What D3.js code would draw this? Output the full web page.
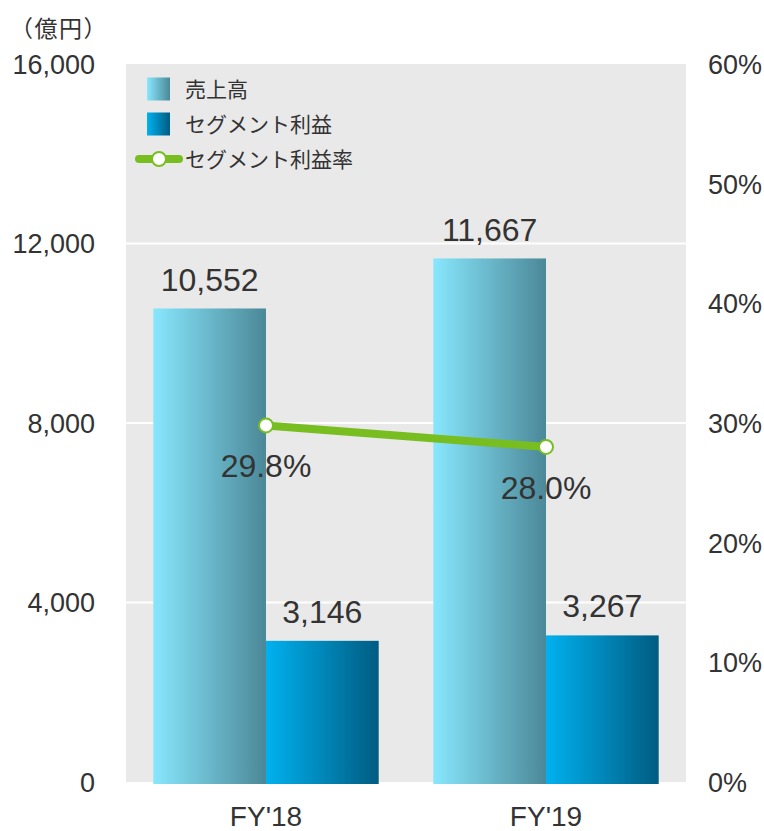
<!DOCTYPE html>
<html>
<head>
<meta charset="utf-8">
<script src="https://cdn.jsdelivr.net/npm/d3@7"></script>
<style>
  html, body { margin: 0; padding: 0; background: #fff; }
  svg { display: block; font-family: "Liberation Sans", Arial, "Noto Sans CJK JP", sans-serif; }
</style>
</head>
<body>
<svg id="chart" width="764" height="831"></svg>
<script>
// Data
const categories = ["FY'18", "FY'19"];
const sales = [10552, 11667];          // 売上高 (億円)
const segmentProfit = [3146, 3267];    // セグメント利益 (億円)
const profitRate = [29.8, 28.0];       // セグメント利益率 (%)
const leftTicks = [0, 4000, 8000, 12000, 16000];
const rightTicks = [0, 10, 20, 30, 40, 50, 60];
const seriesNames = ["売上高", "セグメント利益", "セグメント利益率"];
const unitLabel = "（億円）";

const svg = d3.select("#chart");
const textColor = "#333333";
const lineColor = "#78be20";

const plot = { left: 126, right: 686, top: 64, bottom: 782 };

const x = d3.scaleBand().domain(categories).range([plot.left, plot.right]).padding(0);
const groupWidth = x.bandwidth() * 0.805;
const x1 = d3.scaleBand().domain(["sales", "profit"]).range([0, groupWidth]).padding(0);
const y = d3.scaleLinear().domain([0, 16000]).range([plot.bottom, plot.top]);
const yr = d3.scaleLinear().domain([0, 60]).range([plot.bottom, plot.top]);

// Gradients for the bars
const defs = svg.append("defs");
function gradient(id, from, to) {
  const g = defs.append("linearGradient").attr("id", id)
    .attr("x1", "0%").attr("x2", "100%").attr("y1", "0%").attr("y2", "0%");
  g.append("stop").attr("offset", "0%").attr("stop-color", from);
  g.append("stop").attr("offset", "100%").attr("stop-color", to);
}
gradient("gradSales", "#88e7fd", "#4b8898");
gradient("gradProfit", "#00b1ef", "#005c82");

// Plot background
svg.append("rect")
  .attr("x", plot.left).attr("y", plot.top)
  .attr("width", plot.right - plot.left).attr("height", plot.bottom - plot.top)
  .attr("fill", "#e9e9e9");

// Gridlines
svg.append("g").selectAll("line")
  .data(leftTicks.filter(d => d > 0 && d < 16000))
  .join("line")
  .attr("x1", plot.left).attr("x2", plot.right)
  .attr("y1", d => y(d)).attr("y2", d => y(d))
  .attr("stroke", "#ffffff").attr("stroke-width", 2);

// Left axis
const leftAxis = svg.append("g")
  .attr("transform", `translate(${plot.left - 31},0)`)
  .call(d3.axisLeft(y).tickValues(leftTicks).tickFormat(d3.format(",")).tickSize(0).tickPadding(0));
leftAxis.select(".domain").remove();
leftAxis.selectAll("text")
  .attr("fill", textColor).attr("font-size", 27).attr("dy", "0.35em")
  .attr("font-family", "Liberation Sans, Arial, sans-serif");

// Right axis
const rightAxis = svg.append("g")
  .attr("transform", `translate(${plot.right + 22},0)`)
  .call(d3.axisRight(yr).tickValues(rightTicks).tickFormat(d => d + "%").tickSize(0).tickPadding(0));
rightAxis.select(".domain").remove();
rightAxis.selectAll("text")
  .attr("fill", textColor).attr("font-size", 27).attr("dy", "0.35em")
  .attr("font-family", "Liberation Sans, Arial, sans-serif");

// Bottom axis
const bottomAxis = svg.append("g")
  .attr("transform", `translate(0,${plot.bottom + 24})`)
  .call(d3.axisBottom(x).tickSize(0).tickPadding(0));
bottomAxis.select(".domain").remove();
bottomAxis.selectAll("text")
  .attr("fill", textColor).attr("font-size", 28).attr("dy", "0.71em")
  .attr("font-family", "Liberation Sans, Arial, sans-serif");

// Unit label
svg.append("text")
  .attr("x", 10).attr("y", 37)
  .attr("text-anchor", "start")
  .attr("letter-spacing", 1.5)
  .attr("fill", textColor).attr("font-size", 23)
  .attr("font-family", "Noto Sans CJK JP, sans-serif")
  .text(unitLabel);

// Bars
const overhang = 2;
const groups = svg.append("g").selectAll("g")
  .data(categories.map((c, i) => ({ c, sales: sales[i], profit: segmentProfit[i] })))
  .join("g")
  .attr("transform", d => `translate(${x(d.c) + (x.bandwidth() - groupWidth) / 2},0)`);

groups.append("rect")
  .attr("x", x1("sales")).attr("width", x1.bandwidth())
  .attr("y", d => y(d.sales)).attr("height", d => y(0) - y(d.sales) + overhang)
  .attr("fill", "url(#gradSales)");
groups.append("rect")
  .attr("x", x1("profit")).attr("width", x1.bandwidth())
  .attr("y", d => y(d.profit)).attr("height", d => y(0) - y(d.profit) + overhang)
  .attr("fill", "url(#gradProfit)");

// Bar value labels
const fmt = d3.format(",");
groups.append("text")
  .attr("x", x1("sales") + x1.bandwidth() / 2).attr("y", d => y(d.sales) - 17)
  .attr("text-anchor", "middle").attr("fill", textColor).attr("font-size", 32)
  .text(d => fmt(d.sales));
groups.append("text")
  .attr("x", x1("profit") + x1.bandwidth() / 2).attr("y", d => y(d.profit) - 18)
  .attr("text-anchor", "middle").attr("fill", textColor).attr("font-size", 32)
  .text(d => fmt(d.profit));

// Profit-rate line
const cx = c => x(c) + x.bandwidth() / 2;
const ratePts = categories.map((c, i) => ({ c, v: profitRate[i] }));
svg.append("path")
  .datum(ratePts)
  .attr("d", d3.line().x(d => cx(d.c)).y(d => yr(d.v)))
  .attr("fill", "none").attr("stroke", lineColor).attr("stroke-width", 8);
svg.append("g").selectAll("circle")
  .data(ratePts).join("circle")
  .attr("cx", d => cx(d.c)).attr("cy", d => yr(d.v)).attr("r", 7)
  .attr("fill", "#ffffff").attr("stroke", lineColor).attr("stroke-width", 2);
svg.append("g").selectAll("text")
  .data(ratePts).join("text")
  .attr("x", d => cx(d.c)).attr("y", d => yr(d.v) + 52)
  .attr("text-anchor", "middle").attr("fill", textColor).attr("font-size", 32)
  .text(d => d.v.toFixed(1) + "%");

// Legend
const legend = svg.append("g").attr("transform", "translate(147,89)");
const legendFills = ["url(#gradSales)", "url(#gradProfit)"];
[0, 1].forEach(i => {
  legend.append("rect")
    .attr("x", 0).attr("y", i * 35 - 11.5).attr("width", 23).attr("height", 23)
    .attr("fill", legendFills[i]);
});
legend.append("line")
  .attr("x1", -8).attr("x2", 32).attr("y1", 70).attr("y2", 70)
  .attr("stroke", lineColor).attr("stroke-width", 8).attr("stroke-linecap", "round");
legend.append("circle")
  .attr("cx", 12).attr("cy", 70).attr("r", 7)
  .attr("fill", "#ffffff").attr("stroke", lineColor).attr("stroke-width", 2);
legend.selectAll("text.lg")
  .data(seriesNames).join("text")
  .attr("class", "lg")
  .attr("x", 38).attr("y", (d, i) => i * 35)
  .attr("dy", "0.36em")
  .attr("fill", textColor).attr("font-size", 21)
  .attr("font-family", "Noto Sans CJK JP, sans-serif")
  .text(d => d);
</script>
</body>
</html>
